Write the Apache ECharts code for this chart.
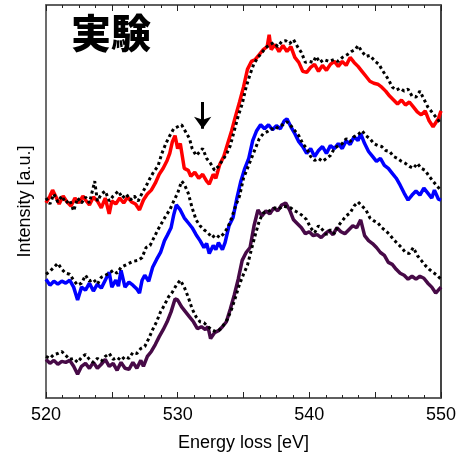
<!DOCTYPE html>
<html>
<head>
<meta charset="utf-8">
<script src="https://cdn.jsdelivr.net/npm/echarts@6/dist/echarts.min.js"></script>
<style>
  html, body { margin: 0; padding: 0; background: #fff; }
  #chart { width: 459px; height: 457px; }
</style>
</head>
<body>
<div id="chart"></div>
<script>
// 軸の範囲と目盛り
const xMin = 520
const xMax = 550
const xTickLabels = [520, 530, 540, 550]

// 矢印の位置 [eV, 上端, 下端]
const arrowAt = [531.9, 299, 272]

// スペクトル [エネルギー(eV), 強度(a.u.)]
const redSolid = [[520.0,197],[520.3,204],[520.5,210],[520.8,202],[521.0,196],[521.3,204],[521.6,198],[521.9,194],[522.2,202],[522.5,197],[522.8,204],[523.0,200],[523.3,195],[523.6,203],[523.9,199],[524.2,192],[524.5,202],[524.8,186],[525.0,199],[525.3,196],[525.6,202],[525.9,197],[526.2,203],[526.5,198],[526.8,196],[527.1,190],[527.4,200],[527.7,206],[528.0,210],[528.3,217],[528.6,226],[528.9,232],[529.2,240],[529.4,247],[529.6,259],[529.8,265],[530.0,252],[530.2,257],[530.5,232],[530.8,230],[531.0,224],[531.3,228],[531.6,222],[531.9,226],[532.2,219],[532.4,216],[532.7,226],[532.9,222],[533.2,236],[533.5,244],[533.8,257],[534.1,270],[534.4,285],[534.7,299],[535.0,314],[535.3,332],[535.6,340],[535.9,342],[536.2,347],[536.5,352],[536.8,355],[536.95,367],[537.1,352],[537.4,357],[537.7,350],[538.0,356],[538.3,350],[538.6,355],[538.9,344],[539.2,339],[539.5,330],[539.8,329],[540.1,334],[540.4,337],[540.7,330],[541.0,336],[541.3,331],[541.6,337],[541.9,340],[542.2,335],[542.5,340],[542.8,336],[543.1,344],[543.4,339],[543.7,335],[544.0,330],[544.3,325],[544.6,320],[544.9,318],[545.2,317],[545.5,314],[545.8,310],[546.1,305],[546.4,301],[546.7,297],[547.0,301],[547.3,296],[547.6,299],[547.9,294],[548.2,289],[548.5,286],[548.8,290],[549.1,280],[549.4,274],[549.6,278],[549.8,282],[550.0,290]]
const redDot = [[520.0,202],[520.3,196],[520.6,206],[520.9,198],[521.2,204],[521.5,197],[521.8,200],[522.1,189],[522.4,202],[522.7,197],[523.0,203],[523.3,197],[523.7,219],[523.9,199],[524.2,206],[524.5,209],[524.8,199],[525.1,204],[525.5,209],[525.8,202],[526.1,206],[526.4,200],[526.7,204],[527.0,199],[527.3,207],[527.6,214],[527.9,222],[528.2,229],[528.5,234],[528.8,247],[529.1,257],[529.4,265],[529.7,272],[530.0,274],[530.3,276],[530.6,269],[530.9,262],[531.1,252],[531.4,245],[531.7,249],[531.9,252],[532.2,242],[532.5,237],[532.8,230],[533.1,234],[533.4,240],[533.7,246],[534.0,255],[534.3,270],[534.6,285],[534.9,297],[535.2,314],[535.5,327],[535.8,338],[536.1,344],[536.4,349],[536.7,354],[537.0,357],[537.3,359],[537.6,355],[537.9,360],[538.2,361],[538.5,358],[538.8,362],[539.1,355],[539.4,349],[539.7,339],[540.0,340],[540.3,339],[540.5,345],[540.8,339],[541.1,342],[541.5,340],[541.9,342],[542.2,340],[542.5,344],[542.9,347],[543.2,350],[543.5,352],[543.7,356],[544.0,350],[544.3,345],[544.6,346],[545.0,340],[545.3,337],[545.5,332],[545.8,326],[546.0,322],[546.3,314],[546.6,311],[546.9,313],[547.2,310],[547.5,312],[547.8,305],[548.1,304],[548.4,310],[548.7,302],[549.0,294],[549.3,289],[549.6,284],[550.0,277]]

const blueSolid = [[520.0,120],[520.3,114],[520.6,118],[520.9,115],[521.2,118],[521.5,116],[521.8,119],[522.1,112],[522.4,99],[522.7,112],[523.0,109],[523.3,116],[523.6,108],[523.9,115],[524.2,111],[524.5,119],[524.8,127],[525.0,112],[525.3,119],[525.5,113],[525.7,129],[526.0,112],[526.3,117],[526.6,114],[526.9,110],[527.1,106],[527.3,119],[527.5,124],[527.8,118],[528.1,132],[528.4,140],[528.7,147],[529.0,159],[529.2,164],[529.5,172],[529.7,185],[529.9,195],[530.2,190],[530.5,182],[530.8,177],[531.1,172],[531.4,165],[531.7,159],[532.0,152],[532.2,156],[532.4,146],[532.7,154],[532.9,150],[533.1,157],[533.4,150],[533.6,157],[533.9,174],[534.2,182],[534.5,202],[534.8,219],[535.1,232],[535.4,242],[535.7,260],[536.0,270],[536.3,276],[536.6,272],[536.9,276],[537.2,271],[537.5,275],[537.8,272],[538.1,280],[538.3,282],[538.6,274],[538.9,267],[539.2,259],[539.5,254],[539.8,247],[540.1,252],[540.4,244],[540.7,250],[541.0,254],[541.3,247],[541.6,255],[541.9,252],[542.2,257],[542.5,252],[542.8,260],[543.1,256],[543.4,264],[543.7,260],[543.9,267],[544.2,257],[544.5,249],[544.8,244],[545.1,239],[545.4,242],[545.7,235],[546.0,232],[546.3,227],[546.6,222],[546.9,215],[547.2,207],[547.5,200],[547.8,205],[548.1,209],[548.4,205],[548.7,212],[549.0,207],[549.3,202],[549.5,210],[549.8,201],[550.0,200]]
const blueDot = [[520.0,125],[520.3,128],[520.6,132],[520.9,136],[521.2,130],[521.5,126],[521.8,125],[522.1,119],[522.4,114],[522.7,116],[523.0,124],[523.3,118],[523.6,120],[523.9,115],[524.2,122],[524.5,124],[524.8,126],[525.1,129],[525.4,126],[525.7,132],[526.0,134],[526.3,136],[526.6,138],[527.0,139],[527.3,142],[527.6,152],[527.9,154],[528.2,162],[528.5,170],[528.8,177],[529.1,184],[529.4,190],[529.7,199],[530.0,207],[530.3,219],[530.5,216],[530.8,207],[531.1,192],[531.4,180],[531.7,174],[532.0,170],[532.3,167],[532.6,162],[532.9,165],[533.2,162],[533.5,166],[533.8,172],[534.1,182],[534.4,194],[534.7,204],[535.0,222],[535.3,232],[535.6,242],[535.9,252],[536.2,262],[536.5,267],[536.8,269],[537.1,272],[537.4,271],[537.7,275],[538.0,276],[538.3,279],[538.6,275],[538.9,270],[539.2,265],[539.5,257],[539.8,252],[540.1,244],[540.4,240],[540.7,242],[541.0,239],[541.3,242],[541.6,245],[541.9,252],[542.2,255],[542.5,257],[542.8,262],[543.1,259],[543.4,264],[543.7,266],[544.0,270],[544.3,265],[544.6,262],[544.9,257],[545.2,255],[545.5,254],[545.8,250],[546.1,249],[546.4,244],[546.7,242],[547.0,239],[547.3,237],[547.6,234],[547.9,232],[548.2,237],[548.5,232],[548.8,230],[549.1,224],[549.4,219],[549.7,214],[550.0,210]]

const purpleSolid = [[520.0,39],[520.3,35],[520.6,38],[520.9,34],[521.2,37],[521.5,36],[521.8,38],[522.1,32],[522.4,24],[522.7,32],[523.0,35],[523.3,30],[523.6,36],[523.9,30],[524.2,34],[524.5,39],[524.8,32],[525.1,35],[525.4,28],[525.7,36],[526.0,30],[526.3,29],[526.6,36],[526.9,30],[527.2,38],[527.4,32],[527.7,42],[528.0,47],[528.3,54],[528.6,62],[528.9,69],[529.2,77],[529.5,87],[529.8,100],[530.0,99],[530.3,92],[530.6,87],[530.9,82],[531.2,77],[531.5,70],[531.8,72],[532.1,69],[532.3,72],[532.5,60],[532.8,66],[533.1,68],[533.4,72],[533.7,77],[534.0,90],[534.3,104],[534.6,120],[534.9,139],[535.2,147],[535.5,152],[535.8,174],[536.1,190],[536.4,184],[536.7,189],[537.0,186],[537.3,192],[537.6,189],[537.9,195],[538.2,197],[538.5,190],[538.8,180],[539.1,176],[539.4,172],[539.7,166],[540.0,168],[540.3,164],[540.6,165],[540.9,162],[541.2,166],[541.5,169],[541.8,165],[542.1,172],[542.4,168],[542.7,166],[543.0,170],[543.3,174],[543.6,172],[543.9,180],[544.2,164],[544.5,159],[544.8,156],[545.1,152],[545.4,147],[545.7,144],[546.0,137],[546.3,135],[546.6,130],[546.9,126],[547.2,124],[547.5,120],[547.8,123],[548.1,120],[548.4,123],[548.7,121],[549.0,116],[549.3,112],[549.6,106],[550.0,112]]
const purpleDot = [[520.0,42],[520.3,40],[520.6,44],[520.9,45],[521.2,47],[521.5,43],[521.8,39],[522.1,40],[522.4,36],[522.7,41],[523.0,44],[523.3,39],[523.6,36],[523.9,40],[524.2,37],[524.5,42],[524.8,45],[525.1,39],[525.4,41],[525.7,38],[526.0,42],[526.3,40],[526.6,46],[526.9,45],[527.2,50],[527.5,52],[527.8,60],[528.1,69],[528.4,77],[528.7,87],[529.0,94],[529.3,102],[529.6,107],[529.9,114],[530.2,119],[530.5,112],[530.8,102],[531.1,90],[531.4,82],[531.7,77],[532.0,76],[532.3,72],[532.6,69],[532.9,67],[533.2,69],[533.5,74],[533.8,80],[534.1,90],[534.4,102],[534.7,115],[535.0,125],[535.3,134],[535.6,150],[535.9,165],[536.2,179],[536.5,187],[536.8,188],[537.1,190],[537.4,192],[537.7,191],[538.0,194],[538.3,193],[538.6,192],[538.9,189],[539.2,187],[539.5,184],[539.8,180],[540.1,172],[540.4,167],[540.7,174],[541.0,170],[541.3,165],[541.6,170],[541.9,166],[542.2,174],[542.5,179],[542.8,184],[543.1,187],[543.4,194],[543.7,198],[544.0,194],[544.3,190],[544.6,182],[544.9,179],[545.2,177],[545.5,172],[545.8,169],[546.1,165],[546.4,160],[546.7,156],[547.0,152],[547.3,147],[547.6,146],[547.9,152],[548.2,144],[548.5,139],[548.8,134],[549.1,130],[549.4,127],[549.7,124],[550.0,120]]

const font = '"Liberation Sans", Arial, sans-serif'

//実線
const solid = (data, color) => ({
  type: 'line',
  data: data,
  symbol: 'none',
  lineStyle: { color: color, width: 3.5 },
  z: 2
})
//点線
const dotted = (data) => ({
  type: 'line',
  data: data,
  symbol: 'none',
  lineStyle: { color: '#000', width: 3, type: [3, 3] },
  z: 3
})

// 目盛り（内向き）
const tickStyle = {
  axisTick: { show: true, inside: true, length: 6, lineStyle: { color: '#222', width: 1 } },
  minorTick: { show: true, splitNumber: 4, length: 3, lineStyle: { color: '#222', width: 1 } }
}

const myChart = echarts.init(document.querySelector('#chart'))
const option = {
  animation: false,
  title: {
    text: '実験',
    left: 66,
    top: 8,
    textStyle: { fontSize: 40, fontWeight: 900, color: '#000', fontFamily: '"Noto Sans CJK JP", sans-serif' }
  },
  grid: { left: 46, right: 16, top: 5, bottom: 55, show: true, borderColor: '#555', borderWidth: 1.5 },
  xAxis: [
    {
      type: 'value',
      min: xMin,
      max: xMax,
      interval: 5,
      name: 'Energy loss [eV]',
      nameLocation: 'middle',
      nameGap: 36,
      nameTextStyle: { fontSize: 18, color: '#000', fontFamily: font },
      axisLine: { lineStyle: { color: '#555', width: 1.5 } },
      ...tickStyle,
      axisLabel: {
        fontSize: 18, color: '#000', fontFamily: font, margin: 8,
        formatter: v => xTickLabels.includes(v) ? String(v) : ''
      },
      splitLine: { show: false }
    },
    {
      type: 'value',
      position: 'top',
      min: xMin,
      max: xMax,
      interval: 5,
      axisLine: { show: true, onZero: false, lineStyle: { color: '#555', width: 1.5 } },
      ...tickStyle,
      axisLabel: { show: false },
      splitLine: { show: false }
    }
  ],
  yAxis: [
    {
      type: 'value',
      min: 0,
      max: 397,
      name: 'Intensity [a.u.]',
      nameLocation: 'middle',
      nameGap: 12,
      nameTextStyle: { fontSize: 18, color: '#000', fontFamily: font },
      axisLine: { show: true, lineStyle: { color: '#666', width: 1.5 } },
      axisTick: { show: false },
      axisLabel: { show: false },
      splitLine: { show: false }
    },
    {
      type: 'value',
      position: 'right',
      min: 0,
      max: 397,
      axisLine: { show: true, lineStyle: { color: '#333', width: 1.5 } },
      axisTick: { show: false },
      axisLabel: { show: false },
      splitLine: { show: false }
    }
  ],
  series: [
    solid(redSolid, '#ff0000'),
    dotted(redDot),
    solid(blueSolid, '#0000ff'),
    dotted(blueDot),
    solid(purpleSolid, '#470a47'),
    dotted(purpleDot),
    {
      // 矢印
      type: 'line',
      data: [],
      markLine: {
        silent: true,
        symbol: ['none', 'arrow'],
        symbolSize: [13, 12],
        label: { show: false },
        lineStyle: { color: '#000', width: 3, type: 'solid' },
        data: [[{ coord: [arrowAt[0], arrowAt[1]] }, { coord: [arrowAt[0], arrowAt[2]] }]]
      }
    }
  ]
}
myChart.setOption(option)
</script>
</body>
</html>
